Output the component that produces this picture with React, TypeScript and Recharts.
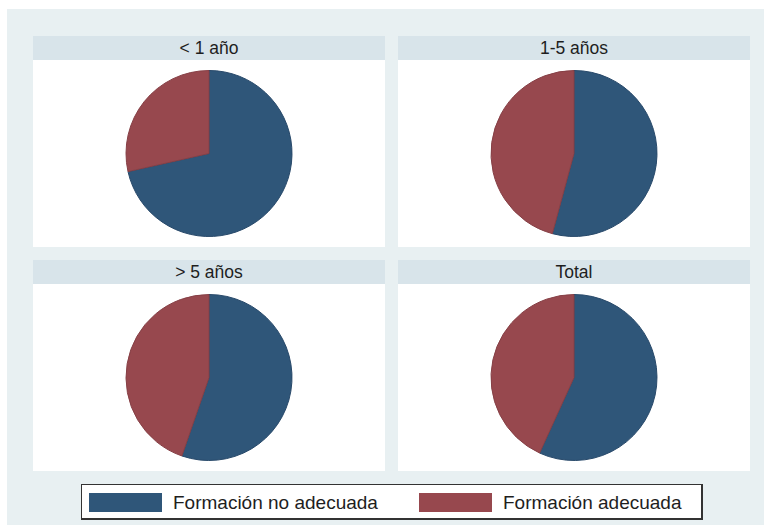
import { PieChart, Pie, Cell } from 'recharts';

const panels = ['< 1 año', '1-5 años', '> 5 años', 'Total'];
const seriesNames = ['Formación no adecuada', 'Formación adecuada'];
const noAdecuada = [71.5, 54.2, 55.3, 56.8];
const adecuada = [28.5, 45.8, 44.7, 43.2];

const colors = ['#2f5679', '#97484e'];
const strokes = ['#28496a', '#864046'];
const font = '"Liberation Sans", Arial, sans-serif';

// panel boxes: left, top of header strip
const panelPos = [
  { x: 33, y: 36 },
  { x: 398, y: 36 },
  { x: 33, y: 260 },
  { x: 398, y: 260 },
];
const panelW = 352;
const headerH = 24;
const plotH = 187;

const Panel = ({ i }: { i: number }) => {
  const data = [
    { name: seriesNames[0], value: noAdecuada[i] },
    { name: seriesNames[1], value: adecuada[i] },
  ];
  const p = panelPos[i];
  return (
    <div style={{ position: 'absolute', left: p.x, top: p.y, width: panelW }}>
      <div
        style={{
          height: headerH,
          background: '#d8e4ea',
          textAlign: 'center',
          fontSize: 17.5,
          lineHeight: `${headerH}px`,
          color: '#1e1e1e',
        }}
      >
        {panels[i]}
      </div>
      <div style={{ background: '#ffffff', height: plotH }}>
        <PieChart width={panelW} height={plotH} margin={{ top: 0, right: 0, bottom: 0, left: 0 }}>
          <Pie
            data={data}
            dataKey="value"
            nameKey="name"
            cx="50%"
            cy="50%"
            outerRadius={83}
            startAngle={90}
            endAngle={-270}
            isAnimationActive={false}
          >
            {data.map((d, k) => (
              <Cell key={d.name} fill={colors[k]} stroke={strokes[k]} strokeWidth={1} />
            ))}
          </Pie>
        </PieChart>
      </div>
    </div>
  );
};

export default function App() {
  return (
    <div
      style={{
        position: 'absolute',
        left: 0,
        top: 0,
        width: 764,
        height: 525,
        background: '#ffffff',
        fontFamily: font,
        overflow: 'hidden',
      }}
    >
      <div
        style={{
          position: 'absolute',
          left: 7,
          top: 9,
          width: 757,
          height: 516,
          background: '#e8f0f2',
        }}
      />
      {panels.map((_, i) => (
        <Panel key={i} i={i} />
      ))}
      <div
        style={{
          position: 'absolute',
          left: 81,
          top: 484,
          width: 619,
          height: 33,
          background: '#ffffff',
          border: '1px solid #333333',
          borderRightWidth: 2,
          borderBottomWidth: 2,
        }}
      >
        {seriesNames.map((n, k) => (
          <div
            key={n}
            style={{
              position: 'absolute',
              left: k === 0 ? 7 : 337,
              top: 8,
              display: 'flex',
              alignItems: 'center',
            }}
          >
            <div style={{ width: 73, height: 19, background: colors[k] }} />
            <span style={{ marginLeft: 11, fontSize: 19, color: '#1e1e1e', lineHeight: '19px' }}>{n}</span>
          </div>
        ))}
      </div>
    </div>
  );
}
